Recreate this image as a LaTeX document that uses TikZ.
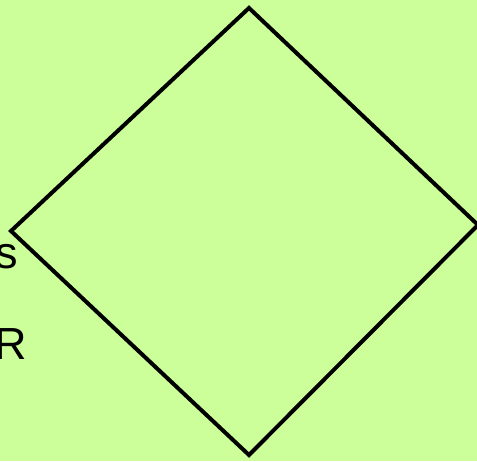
\documentclass[tikz,border=0pt]{standalone}
\usepackage{fontspec}
\setmainfont{Liberation Sans}
\definecolor{paleleaf}{HTML}{CCFF99}
\begin{document}
\begin{tikzpicture}[
      x=1pt, y=1pt,
      rhombus/.style={draw=black, line width=4pt, line join=miter},
      every node/.style={font=\fontsize{45}{45}\selectfont, inner sep=0pt}
    ]
    \fill[paleleaf] (0,0) rectangle (477,461);
    \useasboundingbox (0,0) rectangle (477,461);
    % corners of the diamond
    \coordinate (top) at (249,453);
    \coordinate (right) at (478,236);
    \coordinate (bottom) at (249,6);
    \coordinate (left) at (11,230);
    \draw[rhombus] (top) -- (right) -- (bottom) -- (left) -- cycle;
    \node[anchor=base west] (sLabel) at (-5,192) {s};
    \node[anchor=base west] (rLabel) at (-6,101) {R};
    \end{tikzpicture}
\end{document}
